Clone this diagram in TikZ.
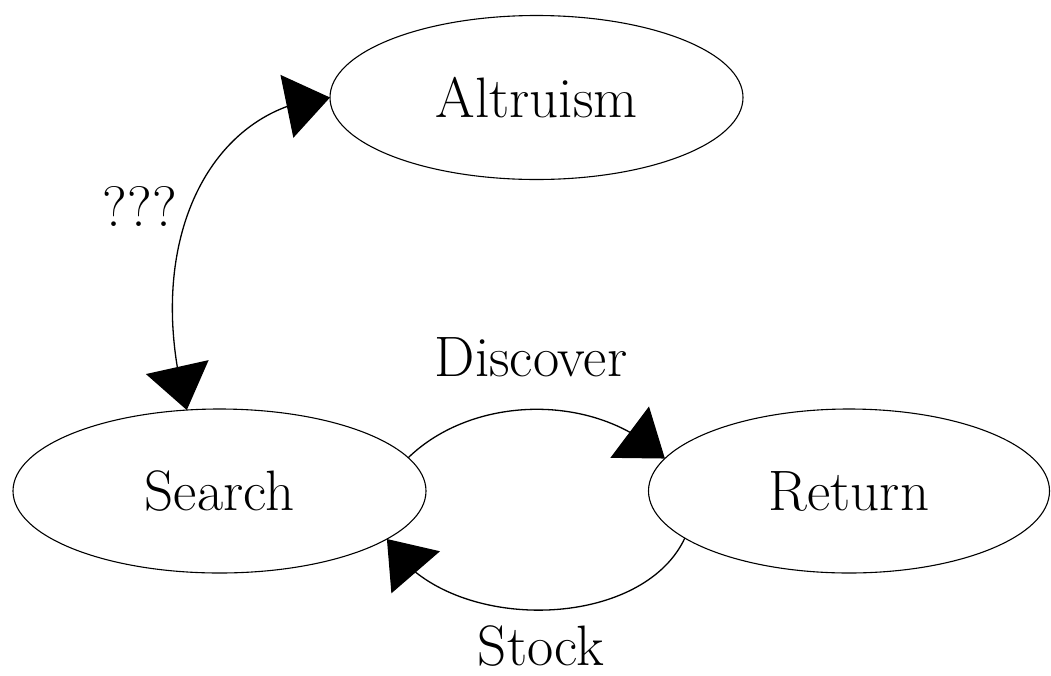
\documentclass[tikz,border=0pt]{standalone}
\usetikzlibrary{arrows.meta,shapes.geometric,bending}
\begin{document}
\begin{tikzpicture}[x=1pt,y=-1pt,
  state/.style={draw, ellipse, minimum width=413pt, minimum height=164pt,
    inner sep=0pt, outer sep=0pt, line width=1.1pt, font=\fontsize{57}{62}\selectfont},
  lab/.style={inner sep=0pt, outer sep=0pt, font=\fontsize{57}{62}\selectfont},
  edge/.style={line width=1.3pt, {Triangle[length=44pt,width=64pt]}-{Triangle[length=44pt,width=64pt]}},
  oneway/.style={line width=1.3pt, -{Triangle[length=44pt,width=64pt]}}]
\useasboundingbox (0,0) rectangle (1051,675);
\node[state] (alt) at (536.5,97.5) {Altruism};
\node[state] (search) at (219.5,491) {Search};
\node[state, minimum width=401pt] (ret) at (849,491) {Return};
\node[lab] (q) at (140,206) {???};
\node[lab] (disc) at (531,357) {Discover};
\node[lab] (stock) at (541,646) {Stock};
\draw[edge] (search.112) .. controls (140,240) and (212,105) .. (alt.west);
\draw[oneway] (search.10) .. controls (475,393) and (600,393) .. (ret.170);
\draw[oneway] (ret.196) .. controls (640,634) and (440,634) .. (search.344);
\end{tikzpicture}
\end{document}
